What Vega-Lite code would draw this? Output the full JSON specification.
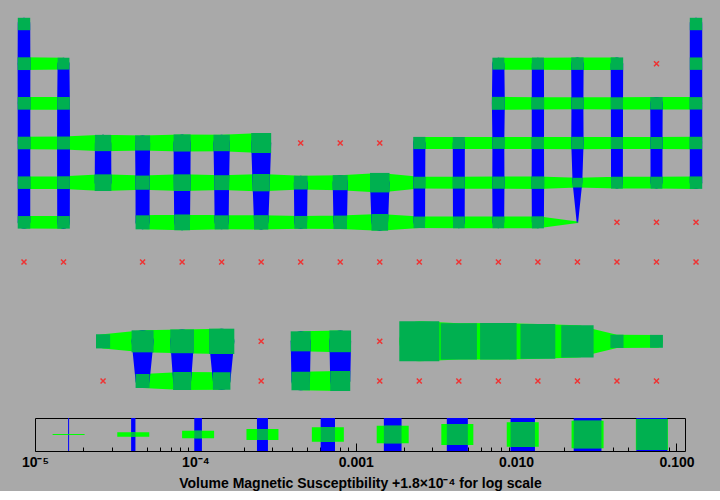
{
  "$schema": "https://vega.github.io/schema/vega-lite/v6.json",
  "background": "#a9a9a9",
  "padding": 0,
  "spacing": 13,
  "bounds": "flush",
  "center": true,
  "config": {"font": "Liberation Sans"},
  "datasets": {
    "elements": [
      {"el":"H","col":1,"row":1,"v":1.8e-4,"h":null,"vr":"c1"},
      {"el":"He","col":18,"row":1,"v":1.8e-4,"h":null,"vr":"c18"},
      {"el":"Li","col":1,"row":2,"v":1.94e-4,"h":"r2a","vr":"c1"},
      {"el":"Be","col":2,"row":2,"v":1.57e-4,"h":"r2a","vr":"c2"},
      {"el":"B","col":13,"row":2,"v":1.61e-4,"h":"r2b","vr":"c13"},
      {"el":"C","col":14,"row":2,"v":1.66e-4,"h":"r2b","vr":"c14"},
      {"el":"N","col":15,"row":2,"v":1.8e-4,"h":"r2b","vr":"c15"},
      {"el":"O","col":16,"row":2,"v":1.82e-4,"h":"r2b","vr":"c16"},
      {"el":"F","col":17,"row":2,"v":null,"h":null,"vr":null},
      {"el":"Ne","col":18,"row":2,"v":1.8e-4,"h":null,"vr":"c18"},
      {"el":"Na","col":1,"row":3,"v":1.885e-4,"h":"r3a","vr":"c1"},
      {"el":"Mg","col":2,"row":3,"v":1.92e-4,"h":"r3a","vr":"c2"},
      {"el":"Al","col":13,"row":3,"v":2.02e-4,"h":"r3b","vr":"c13"},
      {"el":"Si","col":14,"row":3,"v":1.76e-4,"h":"r3b","vr":"c14"},
      {"el":"P","col":15,"row":3,"v":1.6e-4,"h":"r3b","vr":"c15"},
      {"el":"S","col":16,"row":3,"v":1.68e-4,"h":"r3b","vr":"c16"},
      {"el":"Cl","col":17,"row":3,"v":1.8e-4,"h":"r3b","vr":"c17"},
      {"el":"Ar","col":18,"row":3,"v":1.8e-4,"h":"r3b","vr":"c18"},
      {"el":"K","col":1,"row":4,"v":1.86e-4,"h":"r4a","vr":"c1"},
      {"el":"Ca","col":2,"row":4,"v":2.02e-4,"h":"r4a","vr":"c2"},
      {"el":"Sc","col":3,"row":4,"v":4.4e-4,"h":"r4a","vr":"c3"},
      {"el":"Ti","col":4,"row":4,"v":3.3e-4,"h":"r4a","vr":"c4"},
      {"el":"V","col":5,"row":4,"v":5.3e-4,"h":"r4a","vr":"c5"},
      {"el":"Cr","col":6,"row":4,"v":4.5e-4,"h":"r4a","vr":"c6"},
      {"el":"Mn","col":7,"row":4,"v":1.05e-3,"h":"r4a","vr":"c7"},
      {"el":"Fe","col":8,"row":4,"v":null,"h":null,"vr":null},
      {"el":"Co","col":9,"row":4,"v":null,"h":null,"vr":null},
      {"el":"Ni","col":10,"row":4,"v":null,"h":null,"vr":null},
      {"el":"Cu","col":11,"row":4,"v":1.7e-4,"h":"r4b","vr":"c11"},
      {"el":"Zn","col":12,"row":4,"v":1.64e-4,"h":"r4b","vr":"c12"},
      {"el":"Ga","col":13,"row":4,"v":1.57e-4,"h":"r4b","vr":"c13"},
      {"el":"Ge","col":14,"row":4,"v":1.72e-4,"h":"r4b","vr":"c14"},
      {"el":"As","col":15,"row":4,"v":1.75e-4,"h":"r4b","vr":"c15"},
      {"el":"Se","col":16,"row":4,"v":1.63e-4,"h":"r4b","vr":"c16"},
      {"el":"Br","col":17,"row":4,"v":1.64e-4,"h":"r4b","vr":"c17"},
      {"el":"Kr","col":18,"row":4,"v":1.8e-4,"h":"r4b","vr":"c18"},
      {"el":"Rb","col":1,"row":5,"v":1.84e-4,"h":"r5","vr":"c1"},
      {"el":"Sr","col":2,"row":5,"v":1.95e-4,"h":"r5","vr":"c2"},
      {"el":"Y","col":3,"row":5,"v":4.8e-4,"h":"r5","vr":"c3"},
      {"el":"Zr","col":4,"row":5,"v":2.7e-4,"h":"r5","vr":"c4"},
      {"el":"Nb","col":5,"row":5,"v":4.8e-4,"h":"r5","vr":"c5"},
      {"el":"Mo","col":6,"row":5,"v":3.2e-4,"h":"r5","vr":"c6"},
      {"el":"Tc","col":7,"row":5,"v":5.6e-4,"h":"r5","vr":"c7"},
      {"el":"Ru","col":8,"row":5,"v":2.4e-4,"h":"r5","vr":"c8"},
      {"el":"Rh","col":9,"row":5,"v":3.3e-4,"h":"r5","vr":"c9"},
      {"el":"Pd","col":10,"row":5,"v":9.3e-4,"h":"r5","vr":"c10"},
      {"el":"Ag","col":11,"row":5,"v":1.56e-4,"h":"r5","vr":"c11"},
      {"el":"Cd","col":12,"row":5,"v":1.61e-4,"h":"r5","vr":"c12"},
      {"el":"In","col":13,"row":5,"v":1.7e-4,"h":"r5","vr":"c13"},
      {"el":"Sn","col":14,"row":5,"v":1.82e-4,"h":"r5","vr":"c14"},
      {"el":"Sb","col":15,"row":5,"v":9.5e-5,"h":"r5","vr":"c15"},
      {"el":"Te","col":16,"row":5,"v":1.56e-4,"h":"r5","vr":"c16"},
      {"el":"I","col":17,"row":5,"v":1.58e-4,"h":"r5","vr":"c17"},
      {"el":"Xe","col":18,"row":5,"v":1.8e-4,"h":"r5","vr":"c18"},
      {"el":"Cs","col":1,"row":6,"v":1.85e-4,"h":"r6a","vr":"c1"},
      {"el":"Ba","col":2,"row":6,"v":1.87e-4,"h":"r6a","vr":"c2"},
      {"el":"Hf","col":4,"row":6,"v":2.6e-4,"h":"r6b","vr":"c4"},
      {"el":"Ta","col":5,"row":6,"v":3.9e-4,"h":"r6b","vr":"c5"},
      {"el":"W","col":6,"row":6,"v":2.6e-4,"h":"r6b","vr":"c6"},
      {"el":"Re","col":7,"row":6,"v":2.8e-4,"h":"r6b","vr":"c7"},
      {"el":"Os","col":8,"row":6,"v":1.95e-4,"h":"r6b","vr":"c8"},
      {"el":"Ir","col":9,"row":6,"v":2.3e-4,"h":"r6b","vr":"c9"},
      {"el":"Pt","col":10,"row":6,"v":4.8e-4,"h":"r6b","vr":"c10"},
      {"el":"Au","col":11,"row":6,"v":1.46e-4,"h":"r6b","vr":"c11"},
      {"el":"Hg","col":12,"row":6,"v":1.52e-4,"h":"r6b","vr":"c12"},
      {"el":"Tl","col":13,"row":6,"v":1.5e-4,"h":"r6b","vr":"c13"},
      {"el":"Pb","col":14,"row":6,"v":1.64e-4,"h":"r6b","vr":"c14"},
      {"el":"Bi","col":15,"row":6,"v":1.4e-5,"h":"r6b","vr":"c15"},
      {"el":"Po","col":16,"row":6,"v":null,"h":null,"vr":null},
      {"el":"At","col":17,"row":6,"v":null,"h":null,"vr":null},
      {"el":"Rn","col":18,"row":6,"v":null,"h":null,"vr":null},
      {"el":"Fr","col":1,"row":7,"v":null,"h":null,"vr":null},
      {"el":"Ra","col":2,"row":7,"v":null,"h":null,"vr":null},
      {"el":"Rf","col":4,"row":7,"v":null,"h":null,"vr":null},
      {"el":"Db","col":5,"row":7,"v":null,"h":null,"vr":null},
      {"el":"Sg","col":6,"row":7,"v":null,"h":null,"vr":null},
      {"el":"Bh","col":7,"row":7,"v":null,"h":null,"vr":null},
      {"el":"Hs","col":8,"row":7,"v":null,"h":null,"vr":null},
      {"el":"Mt","col":9,"row":7,"v":null,"h":null,"vr":null},
      {"el":"Ds","col":10,"row":7,"v":null,"h":null,"vr":null},
      {"el":"Rg","col":11,"row":7,"v":null,"h":null,"vr":null},
      {"el":"Cn","col":12,"row":7,"v":null,"h":null,"vr":null},
      {"el":"Nh","col":13,"row":7,"v":null,"h":null,"vr":null},
      {"el":"Fl","col":14,"row":7,"v":null,"h":null,"vr":null},
      {"el":"Mc","col":15,"row":7,"v":null,"h":null,"vr":null},
      {"el":"Lv","col":16,"row":7,"v":null,"h":null,"vr":null},
      {"el":"Ts","col":17,"row":7,"v":null,"h":null,"vr":null},
      {"el":"Og","col":18,"row":7,"v":null,"h":null,"vr":null},
      {"el":"La","col":3,"row":9,"v":2.7e-4,"h":"r9a","vr":null},
      {"el":"Ce","col":4,"row":9,"v":1.67e-3,"h":"r9a","vr":"c4b"},
      {"el":"Pr","col":5,"row":9,"v":2.5e-3,"h":"r9a","vr":"c5b"},
      {"el":"Nd","col":6,"row":9,"v":3.6e-3,"h":"r9a","vr":"c6b"},
      {"el":"Pm","col":7,"row":9,"v":null,"h":null,"vr":null},
      {"el":"Sm","col":8,"row":9,"v":1.05e-3,"h":"r9b","vr":"c8b"},
      {"el":"Eu","col":9,"row":9,"v":1.56e-3,"h":"r9b","vr":"c9b"},
      {"el":"Gd","col":10,"row":9,"v":null,"h":null,"vr":null},
      {"el":"Tb","col":11,"row":9,"v":0.11,"h":"r9c","vr":null},
      {"el":"Dy","col":12,"row":9,"v":0.045,"h":"r9c","vr":null},
      {"el":"Ho","col":13,"row":9,"v":0.049,"h":"r9c","vr":null},
      {"el":"Er","col":14,"row":9,"v":0.033,"h":"r9c","vr":null},
      {"el":"Tm","col":15,"row":9,"v":0.0187,"h":"r9c","vr":null},
      {"el":"Yb","col":16,"row":9,"v":2.15e-4,"h":"r9c","vr":null},
      {"el":"Lu","col":17,"row":9,"v":2.0e-4,"h":"r9c","vr":null},
      {"el":"Ac","col":3,"row":10,"v":null,"h":null,"vr":null},
      {"el":"Th","col":4,"row":10,"v":2.6e-4,"h":"r10a","vr":"c4b"},
      {"el":"Pa","col":5,"row":10,"v":6.6e-4,"h":"r10a","vr":"c5b"},
      {"el":"U","col":6,"row":10,"v":5.9e-4,"h":"r10a","vr":"c6b"},
      {"el":"Np","col":7,"row":10,"v":null,"h":null,"vr":null},
      {"el":"Pu","col":8,"row":10,"v":7.4e-4,"h":"r10b","vr":"c8b"},
      {"el":"Am","col":9,"row":10,"v":1.05e-3,"h":"r10b","vr":"c9b"},
      {"el":"Cm","col":10,"row":10,"v":null,"h":null,"vr":null},
      {"el":"Bk","col":11,"row":10,"v":null,"h":null,"vr":null},
      {"el":"Cf","col":12,"row":10,"v":null,"h":null,"vr":null},
      {"el":"Es","col":13,"row":10,"v":null,"h":null,"vr":null},
      {"el":"Fm","col":14,"row":10,"v":null,"h":null,"vr":null},
      {"el":"Md","col":15,"row":10,"v":null,"h":null,"vr":null},
      {"el":"No","col":16,"row":10,"v":null,"h":null,"vr":null},
      {"el":"Lr","col":17,"row":10,"v":null,"h":null,"vr":null}
    ],
    "legend": [
      {"v":1.62e-5},{"v":4.1e-5},{"v":1.04e-4},{"v":2.62e-4},{"v":6.7e-4},
      {"v":1.7e-3},{"v":4.3e-3},{"v":0.011},{"v":0.0279},{"v":0.0702}
    ]
  },
  "vconcat": [
    {
      "width": 720,
      "height": 405,
      "view": {"stroke": null},
      "data": {"name": "elements"},
      "encoding": {
        "x": {"field": "col", "type": "quantitative", "scale": {"domain": [0.393, 18.607], "nice": false, "zero": false}, "axis": null},
        "y": {"field": "row", "type": "quantitative", "scale": {"domain": [0.395, 10.605], "nice": false, "zero": false, "reverse": true}, "axis": null}
      },
      "layer": [
        {
          "transform": [{"filter": "datum.h != null"}],
          "mark": {"type": "trail", "color": "#00ff00"},
          "encoding": {
            "detail": {"field": "h", "type": "nominal"},
            "order": {"field": "col", "type": "quantitative"},
            "size": {"field": "v", "type": "quantitative", "scale": {"type": "log", "domain": [1e-5, 1], "range": [0, 49.5]}, "legend": null}
          }
        },
        {
          "transform": [{"filter": "datum.vr != null"}],
          "mark": {"type": "trail", "color": "#0000ff"},
          "encoding": {
            "detail": {"field": "vr", "type": "nominal"},
            "order": {"field": "row", "type": "quantitative"},
            "size": {"field": "v", "type": "quantitative", "scale": {"type": "log", "domain": [1e-5, 1], "range": [0, 49.5]}, "legend": null}
          }
        },
        {
          "transform": [{"filter": "datum.v != null"}],
          "mark": {"type": "rule", "color": "#00b050", "strokeCap": "square"},
          "encoding": {
            "x2": {"field": "col"},
            "strokeWidth": {"field": "v", "type": "quantitative", "scale": {"type": "log", "domain": [1e-5, 1], "range": [0, 49.5]}, "legend": null}
          }
        },
        {
          "transform": [{"filter": "datum.v == null"}],
          "mark": {"type": "point", "shape": "M-1,-1L1,1M1,-1L-1,1", "size": 25, "filled": false, "stroke": "#ee3333", "strokeWidth": 1.5, "opacity": 1}
        }
      ]
    },
    {
      "width": 650,
      "height": 33,
      "view": {"stroke": "black", "strokeWidth": 1},
      "data": {"name": "legend"},
      "encoding": {
        "x": {
          "field": "v", "type": "quantitative",
          "scale": {"type": "log", "domain": [1e-5, 0.113], "nice": false},
          "axis": {
            "values": [1e-5,2e-5,3e-5,4e-5,5e-5,6e-5,7e-5,8e-5,9e-5,1e-4,2e-4,3e-4,4e-4,5e-4,6e-4,7e-4,8e-4,9e-4,1e-3,2e-3,3e-3,4e-3,5e-3,6e-3,7e-3,8e-3,9e-3,0.01,0.02,0.03,0.04,0.05,0.06,0.07,0.08,0.09,0.1],
            "labelExpr": "abs(log(datum.value)/LN10 - round(log(datum.value)/LN10)) < 0.001 ? (datum.value < 5e-5 ? '10⁻⁵' : datum.value < 5e-4 ? '10⁻⁴' : format(datum.value, '.3f')) : ''",
            "tickSize": {"condition": {"test": "abs(log(datum.value)/LN10 - round(log(datum.value)/LN10)) < 0.001", "value": -8}, "value": -4},
            "tickColor": "black",
            "domain": false,
            "grid": false,
            "labelOverlap": false,
            "labelFlush": false,
            "labelBound": false,
            "labelFont": "Liberation Sans",
            "labelFontSize": 14,
            "labelFontWeight": "bold",
            "labelColor": "black",
            "labelPadding": 12,
            "title": "Volume Magnetic Susceptibility +1.8×10⁻⁴ for log scale",
            "titleFont": "Liberation Sans",
            "titleFontSize": 14,
            "titleFontWeight": "bold",
            "titleColor": "black",
            "titlePadding": 3
          }
        }
      },
      "layer": [
        {
          "mark": {"type": "rule", "color": "#0000ff", "strokeCap": "butt"},
          "encoding": {
            "y": {"datum": 0, "type": "quantitative", "scale": {"domain": [0, 1], "nice": false}, "axis": null},
            "y2": {"datum": 1},
            "strokeWidth": {"field": "v", "type": "quantitative", "scale": {"type": "log", "domain": [1.23e-5, 1], "range": [0, 40.6]}, "legend": null}
          }
        },
        {
          "mark": {"type": "rule", "color": "#00ff00", "strokeCap": "butt", "xOffset": -16, "x2Offset": 16},
          "encoding": {
            "x2": {"field": "v"},
            "y": {"datum": 0.5, "type": "quantitative", "scale": {"domain": [0, 1], "nice": false}, "axis": null},
            "strokeWidth": {"field": "v", "type": "quantitative", "scale": {"type": "log", "domain": [1.23e-5, 1], "range": [0, 40.6]}, "legend": null}
          }
        },
        {
          "mark": {"type": "rule", "color": "#00b050", "strokeCap": "square"},
          "encoding": {
            "x2": {"field": "v"},
            "y": {"datum": 0.5, "type": "quantitative", "scale": {"domain": [0, 1], "nice": false}, "axis": null},
            "strokeWidth": {"field": "v", "type": "quantitative", "scale": {"type": "log", "domain": [1.23e-5, 1], "range": [0, 40.6]}, "legend": null}
          }
        }
      ]
    }
  ],
  "resolve": {"scale": {"x": "independent", "y": "independent", "size": "independent", "strokeWidth": "independent"}}
}
